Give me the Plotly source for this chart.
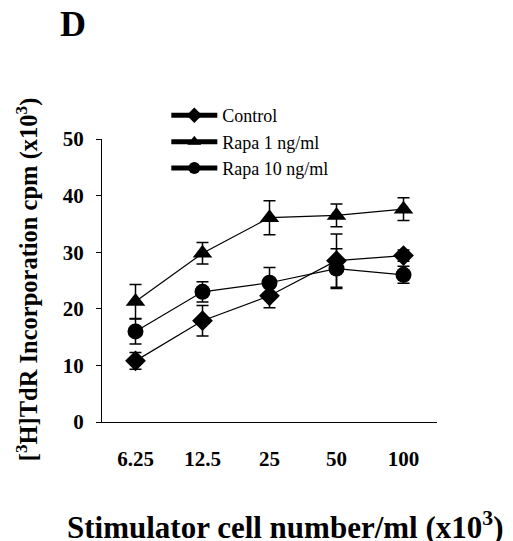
import plotly.graph_objects as go

categories = ["6.25", "12.5", "25", "50", "100"]
control = [10.8, 17.9, 22.3, 28.5, 29.4]
control_err = [1.5, 2.7, 2.1, 4.7, 1.0]
rapa1 = [21.3, 29.8, 36.1, 36.5, 37.6]
rapa1_err = [3.0, 1.9, 3.0, 2.0, 2.0]
rapa10 = [16.0, 23.0, 24.6, 27.1, 26.0]
rapa10_err = [2.2, 1.8, 2.7, 3.5, 1.5]
y_ticks = [0, 10, 20, 30, 40, 50]

FONT = "Liberation Serif, Times New Roman, serif"

fig = go.Figure()
series = [
    ("Control", control, control_err, "diamond", 16),
    ("Rapa 1 ng/ml", rapa1, rapa1_err, "triangle-up", 17),
    ("Rapa 10 ng/ml", rapa10, rapa10_err, "circle", 16),
]
for name, vals, err, sym, size in series:
    fig.add_trace(go.Scatter(
        x=categories, y=vals, name=name, mode="lines+markers",
        line=dict(color="black", width=1.2),
        marker=dict(symbol=sym, size=size, color="black"),
        error_y=dict(type="data", array=err, visible=True, color="black",
                     thickness=1.5, width=6),
    ))

fig.update_layout(
    template="none",
    width=513, height=541,
    margin=dict(l=94, r=84, t=131, b=127, autoexpand=False),
    paper_bgcolor="white", plot_bgcolor="white",
    font=dict(family=FONT, color="black"),
    showlegend=True,
    legend=dict(x=0.192, y=1.148, xanchor="left", yanchor="top",
                font=dict(family=FONT, size=18, color="black"),
                bgcolor="rgba(0,0,0,0)", borderwidth=0, tracegroupgap=0,
                itemwidth=46, itemsizing="constant"),
    xaxis=dict(type="category", range=[-0.5, 4.5], showline=True,
               linecolor="black", linewidth=1.2, ticks="", showgrid=False,
               zeroline=False, automargin=False,
               tickfont=dict(family=FONT, size=21, color="black", weight="bold"),
               ticklabelstandoff=18),
    yaxis=dict(range=[0, 50], tickvals=y_ticks, showline=True,
               linecolor="black", linewidth=1.2, ticks="outside", ticklen=5,
               tickwidth=1.2, tickcolor="black", showgrid=False, zeroline=False,
               automargin=False,
               tickfont=dict(family=FONT, size=21, color="black", weight="bold"),
               ticklabelstandoff=8),
    annotations=[
        dict(text="<b>D</b>", x=-0.1325, y=1.408, xref="paper", yref="paper",
             xanchor="left", yanchor="middle", showarrow=False,
             font=dict(family=FONT, size=36, color="black")),
        dict(text="<b>Stimulator cell number/ml (x10<sup>3</sup>)</b>",
             x=0.545, y=-0.365, xref="paper", yref="paper",
             xanchor="center", yanchor="middle", showarrow=False,
             font=dict(family=FONT, size=31, color="black")),
        dict(text="<b>[<sup>3</sup>H]TdR Incorporation cpm (x10<sup>3</sup>)</b>",
             x=-0.222, y=0.503, xref="paper", yref="paper", textangle=-90,
             xanchor="center", yanchor="middle", showarrow=False,
             font=dict(family=FONT, size=24.5, color="black")),
    ],
)

fig.write_html("out.html")
